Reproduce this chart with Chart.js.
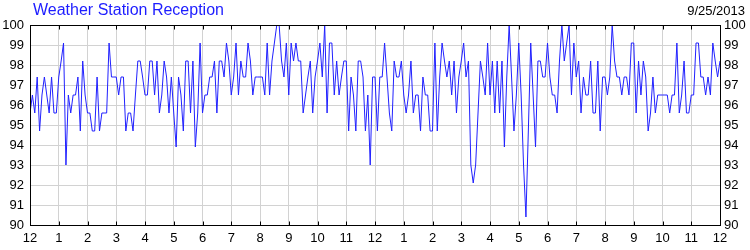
<!DOCTYPE html>
<html>
<head>
<meta charset="utf-8">
<title>Weather Station Reception</title>
<script src="https://cdn.jsdelivr.net/npm/chart.js@4.4.1/dist/chart.umd.min.js"></script>
<style>
  html, body { margin: 0; padding: 0; background: #fff; }
  #chart { display: block; }
</style>
</head>
<body>
<canvas id="chart" width="750" height="250"></canvas>
<script>
// reception (%) sampled every 5 minutes, midnight to midnight
const chartTitle = 'Weather Station Reception';
const chartDate = '9/25/2013';
const minutesPerSample = 5;
const hourLabels = ['12', '1', '2', '3', '4', '5', '6', '7', '8', '9', '10', '11',
                    '12', '1', '2', '3', '4', '5', '6', '7', '8', '9', '10', '11', '12'];
const yTicks = [90, 91, 92, 93, 94, 95, 96, 97, 98, 99, 100];
const reception = [
  95.6, 96.5, 95.6, 97.4, 94.7, 96.5, 97.4, 96.5, 95.6, 97.4, 95.6, 95.6,
  97.4, 98.2, 99.1, 93.0, 96.5, 95.6, 96.5, 96.5, 97.4, 94.7, 98.2, 96.5,
  95.6, 95.6, 94.7, 94.7, 97.4, 94.7, 95.6, 95.6, 95.6, 99.1, 97.4, 97.4,
  97.4, 96.5, 97.4, 97.4, 94.7, 95.6, 95.6, 94.7, 96.5, 98.2, 98.2, 97.4,
  96.5, 96.5, 98.2, 98.2, 96.5, 98.2, 95.6, 96.5, 98.2, 97.4, 95.6, 97.4,
  95.6, 93.9, 97.4, 96.5, 94.7, 98.2, 98.2, 95.6, 98.2, 93.9, 95.6, 99.1,
  95.6, 96.5, 96.5, 97.4, 97.4, 98.2, 95.6, 98.2, 98.2, 97.4, 99.1, 98.2,
  96.5, 97.4, 99.1, 96.5, 98.2, 97.4, 97.4, 99.1, 98.2, 96.5, 97.4, 97.4,
  97.4, 97.4, 96.5, 99.1, 96.5, 98.2, 99.1, 100, 100, 98.2, 97.4, 99.1,
  96.5, 99.1, 98.2, 99.1, 98.2, 98.2, 95.6, 96.5, 97.4, 98.2, 95.6, 97.4,
  98.2, 99.1, 97.4, 100, 95.6, 99.1, 99.1, 96.5, 98.2, 96.5, 97.4, 98.2,
  98.2, 94.7, 97.4, 96.5, 94.7, 98.2, 98.2, 97.4, 94.7, 96.5, 93.0, 97.4,
  97.4, 94.7, 97.4, 97.4, 99.1, 97.4, 95.6, 94.7, 98.2, 97.4, 97.4, 98.2,
  96.5, 95.6, 96.5, 98.2, 95.6, 96.5, 96.5, 94.7, 97.4, 96.5, 96.5, 94.7,
  94.7, 99.1, 94.7, 97.4, 99.1, 98.2, 97.4, 98.2, 96.5, 98.2, 95.6, 97.4,
  98.2, 99.1, 97.4, 98.2, 93.0, 92.1, 93.0, 95.6, 98.2, 97.4, 96.5, 99.1,
  96.5, 98.2, 95.6, 98.2, 95.6, 98.2, 93.9, 97.4, 100, 97.4, 94.7, 96.5,
  99.1, 96.5, 93.0, 90.4, 94.7, 99.1, 96.5, 93.9, 98.2, 98.2, 97.4, 97.4,
  99.1, 97.4, 96.5, 96.5, 95.6, 98.2, 100, 98.2, 99.1, 100, 96.5, 99.1,
  97.4, 98.2, 95.6, 97.4, 96.5, 96.5, 98.2, 95.6, 95.6, 98.2, 94.7, 97.4,
  97.4, 96.5, 97.4, 100, 98.2, 97.4, 97.4, 96.5, 97.4, 97.4, 96.5, 99.1,
  99.1, 95.6, 98.2, 96.5, 98.2, 97.4, 94.7, 95.6, 97.4, 95.6, 96.5, 96.5,
  96.5, 96.5, 96.5, 95.6, 96.5, 96.5, 99.1, 95.6, 96.5, 98.2, 95.6, 95.6,
  96.5, 96.5, 99.1, 99.1, 97.4, 97.4, 96.5, 97.4, 96.5, 99.1, 98.2, 97.4,
  98.2
];

const FONT = '"Liberation Sans", Arial, sans-serif';
const dayMinutes = (hourLabels.length - 1) * 60;

// header texts + plot frame with small inward ticks at each hour
const frame = {
  id: 'frame',
  afterDraw(chart) {
    const { ctx, chartArea: a, scales: { x } } = chart;
    const L = Math.round(a.left) + 0.5, R = Math.round(a.right) + 0.5;
    const T = Math.round(a.top) + 0.5, B = Math.round(a.bottom) + 0.5;
    ctx.save();
    ctx.strokeStyle = '#000';
    ctx.lineWidth = 1;
    ctx.strokeRect(L, T, R - L, B - T);
    ctx.beginPath();
    for (let h = 1; h < hourLabels.length - 1; h++) {
      const px = Math.round(x.getPixelForValue(h * 60)) + 0.5;
      ctx.moveTo(px, T); ctx.lineTo(px, T + 4);
      ctx.moveTo(px, B); ctx.lineTo(px, B - 4);
    }
    ctx.stroke();

    ctx.textBaseline = 'middle';
    ctx.font = '16px ' + FONT;
    ctx.fillStyle = '#1c1cff';
    ctx.textAlign = 'left';
    ctx.fillText(chartTitle, a.left + 3, 11);
    ctx.font = '13px ' + FONT;
    ctx.fillStyle = '#000';
    ctx.textAlign = 'right';
    ctx.fillText(chartDate, 745, 11);
    ctx.restore();
  }
};

const yAxis = (position, pad) => ({
  type: 'linear',
  position,
  min: yTicks[0],
  max: yTicks[yTicks.length - 1],
  afterBuildTicks: s => { s.ticks = yTicks.map(v => ({ value: v })); },
  afterFit: s => { s.width = 30; },
  grid: { display: position === 'left', color: '#d2d2d2', drawTicks: false },
  border: { display: false },
  ticks: { color: '#000', font: { family: FONT, size: 13 }, padding: pad }
});

new Chart(document.getElementById('chart'), {
  type: 'line',
  data: {
    datasets: [{
      label: 'Reception',
      data: reception.map((v, i) => ({ x: i * minutesPerSample, y: v })),
      borderColor: '#2020ff',
      borderWidth: 1,
      pointRadius: 0,
      tension: 0,
      fill: false
    }]
  },
  options: {
    responsive: false,
    animation: false,
    events: [],
    layout: { padding: { top: 25, left: 0, right: 0, bottom: 0 } },
    plugins: { legend: { display: false }, tooltip: { enabled: false }, title: { display: false } },
    scales: {
      x: {
        type: 'linear',
        min: 0,
        max: dayMinutes,
        afterBuildTicks: s => { s.ticks = hourLabels.map((_, h) => ({ value: h * 60 })); },
        afterFit: s => { s.height = 25; },
        grid: { color: '#d2d2d2', drawTicks: false },
        border: { display: false },
        ticks: {
          color: '#000',
          font: { family: FONT, size: 13 },
          padding: 6,
          maxRotation: 0,
          autoSkip: false,
          callback: v => hourLabels[v / 60]
        }
      },
      y: yAxis('left', 6),
      y2: yAxis('right', 4)
    }
  },
  plugins: [frame]
});
</script>
</body>
</html>
